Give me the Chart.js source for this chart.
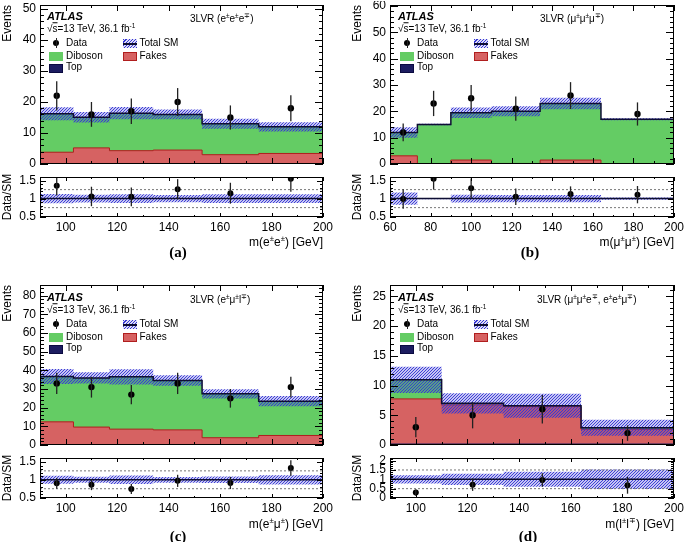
<!DOCTYPE html>
<html>
<head>
<meta charset="utf-8">
<title>3LVR validation regions</title>
<script src="https://cdn.jsdelivr.net/npm/chart.js@4.4.1/dist/chart.umd.min.js"></script>
<style>
  html, body { margin: 0; padding: 0; background: #fff; }
  body { position: relative; width: 685px; height: 542px; overflow: hidden;
         font-family: "Liberation Sans", Arial, Helvetica, sans-serif; color: #000; }
  canvas { position: absolute; }
  .txt { position: absolute; white-space: nowrap; line-height: 1.15; font-size: 10px;
         transform: translateY(-50%); z-index: 5; }
  .right { transform: translate(-100%, -50%); }
  .mid { transform: translate(-50%, -50%); }
  .atlas { font-weight: bold; font-style: italic; font-size: 11px; }
  .axis { font-size: 12px; }
  .letter { font-family: "Liberation Serif", "Times New Roman", serif; font-weight: bold; font-size: 15px; }
  sup { font-size: 65%; line-height: 0; }
  .sw { position: absolute; box-sizing: border-box; z-index: 5; }
  .hatch { background: repeating-linear-gradient(-45deg, rgb(55,55,212) 0px, rgb(55,55,212) 1px, #dcdcf6 1px, #dcdcf6 2.2px); }
  .hatch::after { content: ""; position: absolute; left: 0; right: 0; top: 4px; height: 1.5px; background: #0e0e33; }
</style>
</head>
<body>
<script>
// ---- data ----

// (a) 3LVR e e e
const edgesA = [90, 103, 117, 134, 153, 175, 200];
const topA = [0.2, 0.2, 0.2, 0.2, 0.1, 0.1];
const fakesA = [3.6, 5.0, 4.1, 4.3, 2.9, 3.3];
const dibosonA = [12.4, 9.9, 12.1, 11.5, 10.0, 8.6];
const sysA = [2.1, 1.7, 2.0, 1.6, 1.6, 1.5];
const dataXA = [96.5, 110, 125.5, 143.5, 164, 187.5];
const dataA = [22, 16, 17, 20, 15, 18];
const dataErrA = [4.7, 4.0, 4.1, 4.5, 3.9, 4.2];
const ratioA = [1.36, 1.06, 1.05, 1.26, 1.15, 1.55];
const ratioErrA = [0.27, 0.27, 0.26, 0.28, 0.29, 0.36];
const bandA = [0.13, 0.11, 0.12, 0.10, 0.12, 0.12];

// (b) 3LVR mu mu mu
const edgesB = [60, 73.5, 90, 110, 134, 164, 200];
const topB = [0.2, 0.1, 0.2, 0.2, 0.2, 0.1];
const fakesB = [2.9, 0, 1.3, 0, 1.3, 0];
const dibosonB = [8.9, 14.9, 18.0, 19.8, 21.5, 16.9];
const sysB = [2.0, 0.3, 2.0, 1.9, 2.2, 0.4];
const dataXB = [66.5, 81.5, 100, 122, 149, 182];
const dataB = [12, 23, 25, 21, 26, 19];
const dataErrB = [3.4, 4.8, 5.0, 4.6, 5.1, 4.4];
const ratioB = [0.99, 1.55, 1.29, 1.05, 1.13, 1.11];
const ratioErrB = [0.27, 0.30, 0.27, 0.23, 0.21, 0.24];
const bandB = [0.17, 0.02, 0.11, 0.10, 0.10, 0.03];

// (c) 3LVR e mu l
const edgesC = [90, 103, 117, 134, 153, 175, 200];
const topC = [0.4, 0.4, 0.5, 0.4, 0.3, 0.3];
const fakesC = [12.0, 9.2, 8.0, 7.7, 3.6, 4.8];
const dibosonC = [24.3, 26.3, 28.0, 26.4, 23.5, 18.4];
const sysC = [4.0, 3.0, 4.1, 2.8, 2.5, 2.8];
const dataXC = [96.5, 110, 125.5, 143.5, 164, 187.5];
const dataC = [33, 31, 27, 33, 25, 31];
const dataErrC = [5.7, 5.6, 5.2, 5.7, 5.0, 5.6];
const ratioC = [0.90, 0.86, 0.74, 0.97, 0.91, 1.33];
const ratioErrC = [0.15, 0.15, 0.14, 0.17, 0.17, 0.22];
const bandC = [0.11, 0.085, 0.12, 0.08, 0.09, 0.13];

// (d) 3LVR mu mu e, e e mu
const edgesD = [90, 110, 134, 164, 200];
const topD = [0.25, 0.25, 0.25, 0.25];
const fakesD = [7.5, 6.5, 6.2, 2.4];
const dibosonD = [3.2, 0.25, 0.15, 0.25];
const sysD = [2.2, 1.7, 2.0, 1.35];
const dataXD = [100, 122, 149, 182];
const dataD = [3, 5, 6, 2];
const dataErrD = [1.7, 2.2, 2.4, 1.3];
const ratioD = [0.29, 0.71, 0.96, 0.68];
const ratioErrD = [0.17, 0.33, 0.36, 0.45];
const bandD = [0.22, 0.30, 0.40, 0.52];

// tick labels
const xTicksMass = [100, 120, 140, 160, 180, 200];
const xTicksB = [60, 80, 100, 120, 140, 160, 180, 200];
const yTicksA = [0, 10, 20, 30, 40, 50];
const yTicksB = [0, 10, 20, 30, 40, 50, 60];
const yTicksC = [0, 10, 20, 30, 40, 50, 60, 70, 80];
const yTicksD = [0, 5, 10, 15, 20, 25];
const rTicks = [0.5, 1, 1.5];
const rTicksD = [0, 0.5, 1, 1.5, 2];

// ---- styling ----
Chart.defaults.font.family = '"Liberation Sans", Arial, Helvetica, sans-serif';
Chart.defaults.font.size = 12;
Chart.defaults.color = '#000';

const C_DIBOSON = '#64cc64';
const C_FAKES = '#d66262';
const C_FAKES_LINE = '#b01e1e';
const C_TOP = '#1c1c60';
const C_LINE = '#0e0e33';

function makeHatch() {
    const c = document.createElement('canvas');
    c.width = 3; c.height = 3;
    const g = c.getContext('2d');
    g.strokeStyle = 'rgb(55,55,212)';
    g.lineWidth = 1.1;
    g.beginPath();
    g.moveTo(0, 3); g.lineTo(3, 0);
    g.moveTo(-1, 1); g.lineTo(1, -1);
    g.moveTo(2, 4); g.lineTo(4, 2);
    g.stroke();
    return g.createPattern(c, 'repeat');
}
const HATCH = makeHatch();

// vertical error bars for datasets carrying an "errs" array
const errorBars = {
    id: 'errorBars',
    afterDatasetsDraw(chart) {
        const { ctx, chartArea: a, scales: { y } } = chart;
        ctx.save();
        ctx.beginPath();
        ctx.rect(a.left, a.top, a.right - a.left, a.bottom - a.top);
        ctx.clip();
        ctx.strokeStyle = '#222';
        ctx.lineWidth = 1.3;
        chart.data.datasets.forEach((ds, i) => {
            if (!ds.errs) return;
            chart.getDatasetMeta(i).data.forEach((pt, j) => {
                const v = ds.data[j].y, e = ds.errs[j];
                ctx.beginPath();
                ctx.moveTo(pt.x, y.getPixelForValue(v + e));
                ctx.lineTo(pt.x, y.getPixelForValue(v - e));
                ctx.stroke();
            });
        });
        ctx.restore();
    }
};

// ROOT style frame with inward ticks on all four sides
const atlasFrame = {
    id: 'atlasFrame',
    defaults: { xMinor: 10, yMinor: 2, xLen: 6, yLen: 8 },
    afterDatasetsDraw(chart, args, o) {
        const { ctx, chartArea: a, scales: { x, y } } = chart;
        const marks = (scale, step) => {
            const major = scale.ticks.map(t => t.value);
            const out = major.map(v => [v, 1]);
            const k0 = Math.ceil(scale.min / step - 1e-6), k1 = Math.floor(scale.max / step + 1e-6);
            for (let k = k0; k <= k1; k++) {
                const v = k * step;
                if (!major.some(m => Math.abs(m - v) < step / 100)) out.push([v, 0.5]);
            }
            return out;
        };
        ctx.save();
        ctx.strokeStyle = '#000';
        ctx.lineWidth = 1;
        ctx.strokeRect(a.left + 0.5, a.top + 0.5, a.right - a.left - 1, a.bottom - a.top - 1);
        ctx.beginPath();
        marks(x, o.xMinor).forEach(([v, k]) => {
            const px = Math.round(x.getPixelForValue(v)) + 0.5, L = o.xLen * k;
            ctx.moveTo(px, a.bottom); ctx.lineTo(px, a.bottom - L);
            ctx.moveTo(px, a.top); ctx.lineTo(px, a.top + L);
        });
        marks(y, o.yMinor).forEach(([v, k]) => {
            const py = Math.round(y.getPixelForValue(v)) + 0.5, L = o.yLen * k;
            ctx.moveTo(a.left, py); ctx.lineTo(a.left + L, py);
            ctx.moveTo(a.right, py); ctx.lineTo(a.right - L, py);
        });
        ctx.stroke();
        ctx.restore();
    }
};
Chart.register(errorBars, atlasFrame);

function makeCanvas(left, top, w, h) {
    const cv = document.createElement('canvas');
    cv.width = w; cv.height = h;
    cv.style.left = left + 'px';
    cv.style.top = top + 'px';
    cv.style.width = w + 'px';
    cv.style.height = h + 'px';
    document.body.appendChild(cv);
    return cv;
}

// step histogram points: value i holds from edge i to edge i+1
function histPoints(edges, vals) {
    const pts = vals.map((v, i) => ({ x: edges[i], y: v }));
    pts.push({ x: edges[edges.length - 1], y: vals[vals.length - 1] });
    return pts;
}

function stepSet(edges, vals, extra) {
    return Object.assign({
        data: histPoints(edges, vals), stepped: true, pointRadius: 0,
        borderWidth: 0, borderColor: 'transparent', fill: false
    }, extra);
}

const plainNumber = v => String(v);

function mainChart(f, p) {
    const YW = 40, PT = 4, PR = 4, PB = 2;
    const cv = makeCanvas(f.l - YW, f.t - PT, YW + f.r - f.l + PR, PT + f.b - f.t + PB);
    const topFakes = p.top.map((v, i) => v + p.fakes[i]);
    const total = topFakes.map((v, i) => v + p.diboson[i]);
    return new Chart(cv, {
        type: 'line',
        data: {
            datasets: [
                { label: 'Data', data: p.dataX.map((x, i) => ({ x, y: p.data[i] })), errs: p.dataErr,
                  showLine: false, pointRadius: 3.2, pointBorderWidth: 0,
                  pointBackgroundColor: '#000', borderColor: '#000' },
                stepSet(p.edges, total, { label: 'Total SM', borderColor: C_LINE, borderWidth: 1.5 }),
                stepSet(p.edges, total.map((v, i) => v + p.sys[i]), { label: 'unc up', fill: '+1', backgroundColor: HATCH }),
                stepSet(p.edges, total.map((v, i) => v - p.sys[i]), { label: 'unc down' }),
                stepSet(p.edges, p.top, { label: 'Top', fill: 'origin', backgroundColor: C_TOP }),
                stepSet(p.edges, topFakes, { label: 'Fakes', fill: 'origin', backgroundColor: C_FAKES,
                                             borderColor: C_FAKES_LINE, borderWidth: 1 }),
                stepSet(p.edges, total, { label: 'Diboson', fill: 'origin', backgroundColor: C_DIBOSON })
            ]
        },
        options: {
            responsive: false, animation: false,
            layout: { padding: { left: 0, top: PT, right: PR, bottom: PB } },
            plugins: {
                legend: { display: false }, tooltip: { enabled: false },
                atlasFrame: { xMinor: 10, yMinor: p.yMinor, xLen: 6, yLen: 8 }
            },
            scales: {
                x: {
                    type: 'linear', min: p.edges[0], max: p.edges[p.edges.length - 1],
                    ticks: { display: false }, grid: { display: false, drawTicks: false }, border: { display: false },
                    afterBuildTicks: s => { s.ticks = p.xTicks.map(v => ({ value: v })); },
                    afterFit: s => { s.height = 0; s.paddingLeft = 0; s.paddingRight = 0; }
                },
                y: {
                    min: 0, max: p.yMax,
                    ticks: { padding: 4, autoSkip: false, callback: plainNumber },
                    grid: { display: false, drawTicks: false }, border: { display: false },
                    title: { display: true, text: 'Events', align: 'end', padding: 0, font: { size: 12 } },
                    afterBuildTicks: s => { s.ticks = p.yTicks.map(v => ({ value: v })); },
                    afterFit: s => { s.width = YW; s.paddingTop = 0; s.paddingBottom = 0; }
                }
            }
        }
    });
}

function ratioChart(f, p) {
    const YW = 40, PT = 3, PR = 14, XH = 24;
    const cv = makeCanvas(f.l - YW, f.t - PT, YW + f.r - f.l + PR, PT + f.b - f.t + XH);
    const x0 = p.edges[0], x1 = p.edges[p.edges.length - 1];
    const flat = (v, extra) => Object.assign({
        data: [{ x: x0, y: v }, { x: x1, y: v }], pointRadius: 0, fill: false
    }, extra);
    return new Chart(cv, {
        type: 'line',
        data: {
            datasets: [
                { label: 'Data/SM', data: p.dataX.map((x, i) => ({ x, y: p.ratio[i] })), errs: p.ratioErr,
                  showLine: false, pointRadius: 3, pointBorderWidth: 0,
                  pointBackgroundColor: '#000', borderColor: '#000' },
                flat(1, { label: 'unity', borderColor: C_LINE, borderWidth: 1.5 }),
                ...p.refLines.map(v => flat(v, { label: 'ref', borderColor: '#777', borderWidth: 1, borderDash: [2, 2] })),
                stepSet(p.edges, p.band.map(b => 1 + b), { label: 'band up', fill: '+1', backgroundColor: HATCH }),
                stepSet(p.edges, p.band.map(b => 1 - b), { label: 'band down' })
            ]
        },
        options: {
            responsive: false, animation: false,
            layout: { padding: { left: 0, top: PT, right: PR, bottom: 0 } },
            plugins: {
                legend: { display: false }, tooltip: { enabled: false },
                atlasFrame: { xMinor: 10, yMinor: 0.1, xLen: 4, yLen: 6 }
            },
            scales: {
                x: {
                    type: 'linear', min: x0, max: x1,
                    ticks: { padding: 3, autoSkip: false, maxRotation: 0, callback: plainNumber },
                    grid: { display: false, drawTicks: false }, border: { display: false },
                    afterBuildTicks: s => { s.ticks = p.xTicks.map(v => ({ value: v })); },
                    afterFit: s => { s.height = XH; s.paddingLeft = 0; s.paddingRight = 0; }
                },
                y: {
                    min: p.rMin, max: p.rMax,
                    ticks: { padding: 4, autoSkip: false, callback: plainNumber },
                    grid: { display: false, drawTicks: false }, border: { display: false },
                    title: { display: true, text: 'Data/SM', align: 'center', padding: 0, font: { size: 12 } },
                    afterBuildTicks: s => { s.ticks = p.rTicks.map(v => ({ value: v })); },
                    afterFit: s => { s.width = YW; s.paddingTop = 0; s.paddingBottom = 0; }
                }
            }
        }
    });
}

// ---- text overlays ----
function txt(x, y, html, cls) {
    const d = document.createElement('div');
    d.className = 'txt ' + (cls || '');
    d.style.left = x + 'px';
    d.style.top = y + 'px';
    d.innerHTML = html;
    document.body.appendChild(d);
}
function sw(x, y, w, h, css, cls) {
    const d = document.createElement('div');
    d.className = 'sw ' + (cls || '');
    d.style.cssText += `left:${x}px;top:${y}px;width:${w}px;height:${h}px;` + css;
    document.body.appendChild(d);
}

function panelText(ox, oy, regionX, region) {
    txt(47 + ox, 16 + oy, 'ATLAS', 'atlas');
    txt(47 + ox, 28.5 + oy, '√<span style="text-decoration:overline">s</span>=13 TeV, 36.1 fb<sup>-1</sup>');
    txt(regionX, 19 + oy, region);
    // legend
    sw(53 + ox, 40 + oy, 6, 6, 'background:#000;border-radius:50%;');
    sw(55.5 + ox, 38 + oy, 1, 10, 'background:#222;');
    txt(66 + ox, 43.3 + oy, 'Data');
    sw(123 + ox, 39 + oy, 14, 9, '', 'hatch');
    txt(139.5 + ox, 43.3 + oy, 'Total SM');
    sw(49 + ox, 51.5 + oy, 14, 9, 'background:' + C_DIBOSON + ';');
    txt(66 + ox, 55.7 + oy, 'Diboson');
    sw(123 + ox, 51.5 + oy, 14, 9, 'background:' + C_FAKES + ';border:1px solid ' + C_FAKES_LINE + ';');
    txt(139.5 + ox, 55.7 + oy, 'Fakes');
    sw(49 + ox, 63.5 + oy, 14, 9, 'background:' + C_TOP + ';border:1px solid #0a0a40;');
    txt(66 + ox, 67.3 + oy, 'Top');
}

// ---- panels ----
mainChart({ l: 40, r: 323, t: 5, b: 166 }, {
    edges: edgesA, top: topA, fakes: fakesA, diboson: dibosonA, sys: sysA,
    dataX: dataXA, data: dataA, dataErr: dataErrA,
    yMax: 51.3, yTicks: yTicksA, yMinor: 2, xTicks: xTicksMass
});
ratioChart({ l: 40, r: 323, t: 176, b: 217 }, {
    edges: edgesA, dataX: dataXA, ratio: ratioA, ratioErr: ratioErrA, band: bandA,
    refLines: [0.75, 1.25], rMin: 0.49, rMax: 1.6, rTicks: rTicks, xTicks: xTicksMass
});

mainChart({ l: 390, r: 674, t: 5, b: 166 }, {
    edges: edgesB, top: topB, fakes: fakesB, diboson: dibosonB, sys: sysB,
    dataX: dataXB, data: dataB, dataErr: dataErrB,
    yMax: 60.4, yTicks: yTicksB, yMinor: 2, xTicks: xTicksB
});
ratioChart({ l: 390, r: 674, t: 176, b: 217 }, {
    edges: edgesB, dataX: dataXB, ratio: ratioB, ratioErr: ratioErrB, band: bandB,
    refLines: [0.75, 1.25], rMin: 0.49, rMax: 1.6, rTicks: rTicks, xTicks: xTicksB
});

mainChart({ l: 40, r: 323, t: 285, b: 447 }, {
    edges: edgesC, top: topC, fakes: fakesC, diboson: dibosonC, sys: sysC,
    dataX: dataXC, data: dataC, dataErr: dataErrC,
    yMax: 85.7, yTicks: yTicksC, yMinor: 2, xTicks: xTicksMass
});
ratioChart({ l: 40, r: 323, t: 457, b: 498 }, {
    edges: edgesC, dataX: dataXC, ratio: ratioC, ratioErr: ratioErrC, band: bandC,
    refLines: [0.75, 1.25], rMin: 0.49, rMax: 1.61, rTicks: rTicks, xTicks: xTicksMass
});

mainChart({ l: 390, r: 674, t: 285, b: 447 }, {
    edges: edgesD, top: topD, fakes: fakesD, diboson: dibosonD, sys: sysD,
    dataX: dataXD, data: dataD, dataErr: dataErrD,
    yMax: 26.9, yTicks: yTicksD, yMinor: 1, xTicks: xTicksMass
});
ratioChart({ l: 390, r: 674, t: 457, b: 498 }, {
    edges: edgesD, dataX: dataXD, ratio: ratioD, ratioErr: ratioErrD, band: bandD,
    refLines: [0.5, 1.5], rMin: 0, rMax: 2.14, rTicks: rTicksD, xTicks: xTicksMass
});

panelText(0, 0, 190, '3LVR (e<sup>±</sup>e<sup>±</sup>e<sup>∓</sup>)');
panelText(351, 0, 540, '3LVR (μ<sup>±</sup>μ<sup>±</sup>μ<sup>∓</sup>)');
panelText(0, 281, 190, '3LVR (e<sup>±</sup>μ<sup>±</sup>l<sup>∓</sup>)');
panelText(351, 281, 537, '3LVR (μ<sup>±</sup>μ<sup>±</sup>e<sup>∓</sup>, e<sup>±</sup>e<sup>±</sup>μ<sup>∓</sup>)');

txt(323, 243, 'm(e<sup>±</sup>e<sup>±</sup>) [GeV]', 'axis right');
txt(674, 243, 'm(μ<sup>±</sup>μ<sup>±</sup>) [GeV]', 'axis right');
txt(323, 525, 'm(e<sup>±</sup>μ<sup>±</sup>) [GeV]', 'axis right');
txt(674, 525, 'm(l<sup>±</sup>l<sup>∓</sup>) [GeV]', 'axis right');

txt(178, 253, '(a)', 'letter mid');
txt(530, 253, '(b)', 'letter mid');
txt(178, 537, '(c)', 'letter mid');
txt(528, 537, '(d)', 'letter mid');
</script>
</body>
</html>
